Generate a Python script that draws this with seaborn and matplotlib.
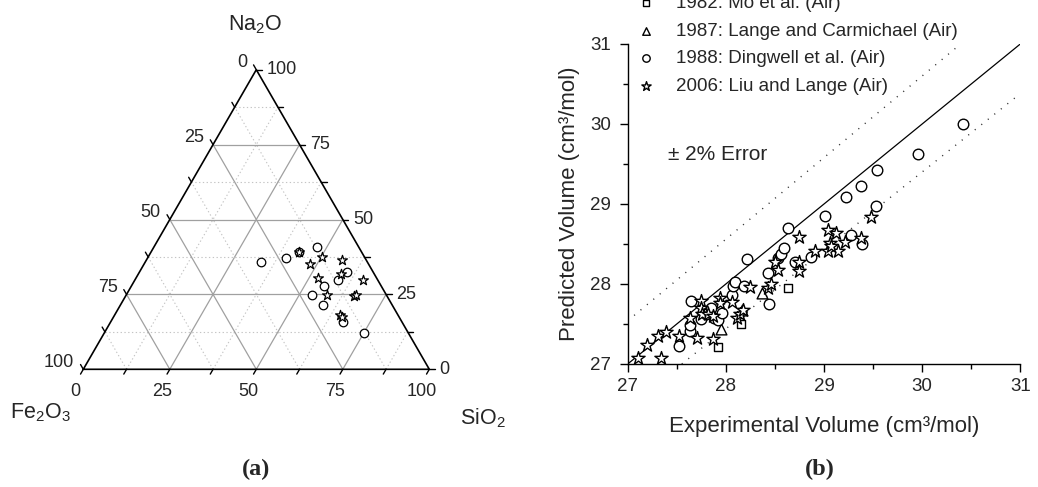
import numpy as np
import matplotlib
matplotlib.use("Agg")
import matplotlib.pyplot as plt
from matplotlib.ticker import MultipleLocator
import seaborn as sns

sns.set_style("ticks")
plt.rcParams["font.family"] = ["Liberation Sans", "DejaVu Sans"]
plt.rcParams["mathtext.fontset"] = "custom"
plt.rcParams["mathtext.rm"] = "Liberation Sans"
plt.rcParams["mathtext.it"] = "Liberation Sans:italic"

# ---------------- ternary compositions (wt%) ----------------
dingwell_na2o = [35.7, 37.3, 40.9, 39.0, 32.5, 29.8, 27.9, 24.7, 21.4, 15.7, 12.1]
dingwell_sio2 = [33.5, 40.0, 47.1, 42.8, 60.0, 58.6, 55.6, 53.8, 58.7, 67.3, 75.2]
dingwell_fe2o3 = [30.8, 22.7, 12.0, 18.2, 7.5, 11.6, 16.5, 21.5, 19.9, 17.0, 12.7]

liu_na2o = [39.0, 37.6, 35.0, 36.4, 31.8, 29.7, 30.4, 24.9, 24.6, 24.7, 18.1, 17.4]
liu_sio2 = [42.8, 50.2, 48.1, 56.7, 58.6, 65.9, 52.5, 57.9, 65.9, 66.5, 65.2, 66.1]
liu_fe2o3 = [18.2, 12.2, 16.9, 6.9, 9.6, 4.4, 17.1, 17.2, 9.5, 8.8, 16.7, 16.5]

ternary_ticks = [0, 25, 50, 75, 100]

# ---------------- volumes (cm3/mol) ----------------
mo_exp = [27.92, 28.15, 28.63]
mo_pred = [27.21, 27.50, 27.95]

lange_exp = [27.95, 28.16, 28.37]
lange_pred = [27.44, 27.68, 27.89]

dingwell_exp = [27.52, 27.63, 27.63, 27.64, 27.75, 27.80, 27.85, 27.88, 27.92,
                27.96, 28.06, 28.07, 28.09, 28.18, 28.22, 28.44, 28.43, 28.53,
                28.56, 28.59, 28.70, 28.87, 28.63, 29.01, 29.22, 29.38, 29.54,
                29.27, 29.39, 29.53, 29.96, 30.42]
dingwell_pred = [27.22, 27.41, 27.49, 27.79, 27.56, 27.62, 27.70, 27.57, 27.55,
                 27.64, 27.86, 27.97, 28.02, 27.97, 28.31, 27.75, 28.14, 28.32,
                 28.37, 28.45, 28.28, 28.34, 28.70, 28.85, 29.09, 29.22, 29.42,
                 28.61, 28.50, 28.97, 29.62, 30.00]

liu_exp = [27.10, 27.34, 27.20, 27.31, 27.39, 27.52, 27.71, 27.87, 27.63, 27.75,
           27.75, 27.76, 27.82, 27.87, 27.94, 27.94, 28.06, 28.11, 28.14, 28.17,
           28.25, 28.43, 28.46, 28.50, 28.53, 28.75, 28.75, 28.75, 28.91, 29.04,
           29.12, 29.06, 29.04, 29.14, 29.07, 29.21, 29.38, 29.48]
liu_pred = [27.07, 27.07, 27.24, 27.35, 27.40, 27.35, 27.33, 27.31, 27.57, 27.79,
            27.70, 27.62, 27.63, 27.60, 27.82, 27.76, 27.77, 27.57, 27.63, 27.67,
            27.96, 27.95, 28.00, 28.27, 28.18, 28.28, 28.16, 28.59, 28.41, 28.68,
            28.64, 28.51, 28.41, 28.41, 28.47, 28.53, 28.57, 28.84]

legend_labels = ["1982: Mo et al. (Air)",
                 "1987: Lange and Carmichael (Air)",
                 "1988: Dingwell et al. (Air)",
                 "2006: Liu and Lange (Air)"]
error_fraction = 0.02
vol_min, vol_max = 27, 31

W, H = 1038, 487
fig = plt.figure(figsize=(W / 100, H / 100), dpi=100)

# ================= (a) ternary diagram =================
S3 = np.sqrt(3) / 2
ax1 = fig.add_axes([83.3 / W, (H - 369.3) / H, 346 / W, 299.6 / H])


def tern(na, si):
    na = np.asarray(na, dtype=float)
    si = np.asarray(si, dtype=float)
    return si + na / 2, na * S3


# grid lines
for v in np.arange(12.5, 100, 12.5):
    major = (v % 25 == 0)
    kw = dict(color="#a0a0a0", lw=0.9, ls="-") if major else \
        dict(color="#c4c4c4", lw=0.8, ls=(0, (1.2, 2.2)))
    # constant Na2O
    x, y = tern([v, v], [0, 100 - v])
    ax1.plot(x, y, **kw, zorder=1)
    # constant SiO2
    x, y = tern([0, 100 - v], [v, v])
    ax1.plot(x, y, **kw, zorder=1)
    # constant Fe2O3
    x, y = tern([0, 100 - v], [100 - v, 0])
    ax1.plot(x, y, **kw, zorder=1)

# triangle frame
x, y = tern([0, 0, 100, 0], [0, 100, 0, 0])
ax1.plot(x, y, color="black", lw=1.2, zorder=3, clip_on=False,
         solid_joinstyle="miter")

# edge ticks
tl = 1.6
for v in np.arange(0, 100.1, 12.5):
    # bottom edge (SiO2)
    x0, y0 = tern(0, v)
    ax1.plot([x0, x0 - 0.5 * tl], [y0, y0 - S3 * tl], color="black", lw=1,
             clip_on=False, zorder=3)
    # right edge (Na2O)
    x0, y0 = tern(v, 100 - v)
    ax1.plot([x0, x0 + tl], [y0, y0], color="black", lw=1, clip_on=False,
             zorder=3)
    # left edge (Fe2O3)
    x0, y0 = tern(100 - v, 0)
    ax1.plot([x0, x0 - 0.5 * tl], [y0, y0 + S3 * tl], color="black", lw=1,
             clip_on=False, zorder=3)

tfs = 13
for v in ternary_ticks:
    x0, y0 = tern(0, v)
    ax1.text(x0 - 2.3, y0 - 6.4, f"{v}", ha="center", va="center",
             fontsize=tfs, clip_on=False)
    x0, y0 = tern(v, 100 - v)
    ax1.text(x0 + 3.0, y0, f"{v}", ha="left", va="center", fontsize=tfs,
             clip_on=False)
    x0, y0 = tern(100 - v, 0)
    ax1.text(x0 - 2.6, y0 + 2.1, f"{v}", ha="right", va="center",
             fontsize=tfs, clip_on=False)

ax1.text(49.6, 99.5, r"Na$_2$O", ha="center", va="center", fontsize=15.5,
         clip_on=False)
ax1.text(-12.5, -12.6, r"Fe$_2$O$_3$", ha="center", va="center",
         fontsize=15.5, clip_on=False)
ax1.text(115.5, -14.1, r"SiO$_2$", ha="center", va="center", fontsize=15.5,
         clip_on=False)

dx, dy = tern(dingwell_na2o, dingwell_sio2)
lx, ly = tern(liu_na2o, liu_sio2)
sns.scatterplot(x=dx, y=dy, ax=ax1, marker="o", s=38, color="white",
                edgecolor="black", linewidth=0.9, zorder=4, clip_on=False)
sns.scatterplot(x=lx, y=ly, ax=ax1, marker="*", s=55, color="white",
                edgecolor="black", linewidth=0.9, zorder=5, clip_on=False)
ax1.set_xlim(0, 100)
ax1.set_ylim(0, 100 * S3)
ax1.axis("off")

fig.text(256 / W, 1 - 469 / H, "(a)", ha="center", va="center",
         fontsize=17.5, fontweight="bold", family="Liberation Serif")

# ================= (b) predicted vs experimental =================
ax2 = fig.add_axes([627.7 / W, (H - 364) / H, 392.6 / W, 320 / H])
mk = dict(color="white", edgecolor="black", linewidth=1.0, zorder=4,
          clip_on=False)
sns.scatterplot(x=mo_exp, y=mo_pred, ax=ax2, marker="s", s=36,
                label=legend_labels[0], **mk)
sns.scatterplot(x=lange_exp, y=lange_pred, ax=ax2, marker="^", s=60,
                label=legend_labels[1], **mk)
sns.scatterplot(x=dingwell_exp, y=dingwell_pred, ax=ax2, marker="o", s=58,
                label=legend_labels[2], **mk)
sns.scatterplot(x=liu_exp, y=liu_pred, ax=ax2, marker="*", s=100,
                label=legend_labels[3], **mk)

ax2.plot([vol_min, vol_max], [vol_min, vol_max], color="black", lw=0.9,
         zorder=2)
dot = dict(color="#333333", lw=1.0, ls=(0, (0.8, 5.2)), zorder=2)
ax2.plot([vol_min, vol_max / (1 + error_fraction)],
         [vol_min * (1 + error_fraction), vol_max], **dot)
ax2.plot([vol_min / (1 - error_fraction), vol_max],
         [vol_min, vol_max * (1 - error_fraction)], **dot)

ax2.set_xlim(vol_min, vol_max)
ax2.set_ylim(vol_min, vol_max)
ax2.xaxis.set_major_locator(MultipleLocator(1))
ax2.yaxis.set_major_locator(MultipleLocator(1))
ax2.xaxis.set_minor_locator(MultipleLocator(0.5))
ax2.yaxis.set_minor_locator(MultipleLocator(0.5))
ax2.tick_params(which="major", direction="out", length=6, width=1,
                labelsize=13.5, color="black")
ax2.tick_params(axis="x", which="major", pad=4)
ax2.tick_params(axis="y", which="major", pad=6)
ax2.tick_params(which="minor", direction="out", length=3.5, width=1,
                color="black")
sns.despine(ax=ax2)
for sp in ("left", "bottom"):
    ax2.spines[sp].set_color("black")
    ax2.spines[sp].set_linewidth(1.0)

ax2.set_xlabel("Experimental Volume (cm³/mol)", fontsize=16)
ax2.set_ylabel("Predicted Volume (cm³/mol)", fontsize=16)
ax2.xaxis.set_label_coords(0.5, -0.163)
ax2.yaxis.set_label_coords(-0.122, 0.5)

ax2.text(27.41, 29.62, "± 2% Error", ha="left", va="center", fontsize=15)

ax2.legend(loc="upper left", bbox_to_anchor=(637 / W, (H + 5) / H),
           bbox_transform=fig.transFigure, frameon=False, fontsize=13.5,
           handlelength=1.0, handletextpad=1.1, borderpad=0, borderaxespad=0,
           labelspacing=0.56, markerscale=0.7)

fig.text(820 / W, 1 - 469 / H, "(b)", ha="center", va="center",
         fontsize=17.5, fontweight="bold", family="Liberation Serif")

fig.savefig("out.png", dpi=100)
